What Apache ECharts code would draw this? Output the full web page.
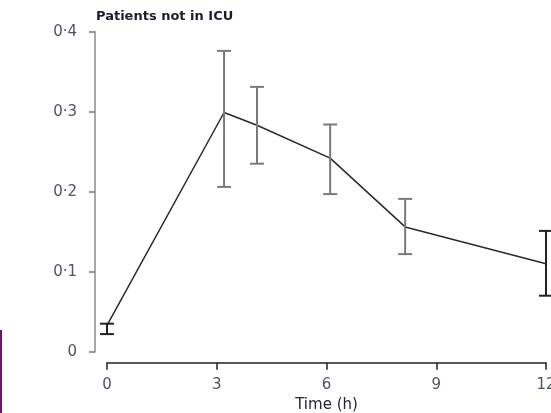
<!DOCTYPE html>
<html>
<head>
<meta charset="utf-8">
<script src="https://cdn.jsdelivr.net/npm/echarts@6/dist/echarts.min.js"></script>
<style>
  html, body { margin: 0; padding: 0; background: #fff; overflow: hidden; }
  #chart { width: 551px; height: 413px; }
</style>
</head>
<body>
<div id="chart"></div>
<script>
// ---- data ----
var titleText = 'Patients not in ICU';
var xAxisName = 'Time (h)';
var timesH  = [0, 3.2, 4.1, 6.1, 8.15, 12];
var means   = [0.033, 0.299, 0.283, 0.242, 0.156, 0.110];
var lowers  = [0.022, 0.206, 0.235, 0.197, 0.122, 0.070];
var uppers  = [0.035, 0.376, 0.331, 0.284, 0.191, 0.151];
var xTicks  = [0, 3, 6, 9, 12];
var yTicks  = [0, 0.1, 0.2, 0.3, 0.4];

function fmtY(v) {
  if (v === 0) return '0';
  return v.toFixed(1).replace('.', '\u00B7');
}

var lineData = timesH.map(function (t, i) { return [t, means[i]]; });
var errData = timesH.map(function (t, i) { return [t, lowers[i], uppers[i]]; });

var chart = echarts.init(document.getElementById('chart'));
var FONT = 'DejaVu Sans';
var lastIdx = timesH.length - 1;

chart.setOption({
  animation: false,
  backgroundColor: '#ffffff',
  title: {
    text: titleText,
    left: 96, top: 10, padding: 0,
    textStyle: { fontFamily: FONT, fontSize: 13, fontWeight: 'bold', color: '#1a1e2c' }
  },
  grid: { left: 107, right: 5, top: 31.7, bottom: 61.3, containLabel: false, outerBoundsMode: 'none' },
  xAxis: {
    type: 'value', min: 0, max: 12, interval: 3, offset: 11,
    name: xAxisName, nameLocation: 'middle', nameGap: 35,
    nameTextStyle: { fontFamily: FONT, fontSize: 15, color: '#262632' },
    axisLine: { show: true, onZero: false, lineStyle: { color: '#222', width: 1.5 } },
    axisTick: { show: true, length: 7, lineStyle: { color: '#222', width: 1.5 } },
    axisLabel: { margin: 15, fontFamily: FONT, fontSize: 15, color: '#4e5366',
      hideOverlap: false,
      formatter: function (v) { return xTicks.indexOf(v) >= 0 ? String(v) : ''; } },
    splitLine: { show: false }
  },
  yAxis: {
    type: 'value', min: 0, max: 0.4, interval: 0.1, offset: 12,
    axisLine: { show: true, onZero: false, lineStyle: { color: '#a8a8a8', width: 2 } },
    axisTick: { show: true, length: 6, lineStyle: { color: '#999', width: 2 } },
    axisLabel: { margin: 18, fontFamily: FONT, fontSize: 15, color: '#4e5366',
      formatter: function (v) {
        for (var k = 0; k < yTicks.length; k++) {
          if (Math.abs(yTicks[k] - v) < 1e-9) return fmtY(yTicks[k]);
        }
        return '';
      } },
    splitLine: { show: false }
  },
  graphic: [
    { type: 'rect', shape: { x: 0, y: 330, width: 2, height: 83 }, style: { fill: '#6e1170' } }
  ],
  series: [
    {
      type: 'line',
      data: lineData,
      symbol: 'none',
      lineStyle: { color: '#2a2a2a', width: 1.5 },
      z: 3
    },
    {
      type: 'custom',
      data: errData,
      z: 4,
      renderItem: function (params, api) {
        var x = api.value(0);
        var lo = api.coord([x, api.value(1)]);
        var hi = api.coord([x, api.value(2)]);
        var half = 7;
        var idx = params.dataIndex;
        var col = (idx === 0 || idx === lastIdx) ? '#222' : '#7a7a7a';
        var st = { stroke: col, lineWidth: 2 };
        return {
          type: 'group',
          children: [
            { type: 'line', shape: { x1: lo[0], y1: lo[1], x2: hi[0], y2: hi[1] }, style: st },
            { type: 'line', shape: { x1: lo[0] - half, y1: lo[1], x2: lo[0] + half, y2: lo[1] }, style: st },
            { type: 'line', shape: { x1: hi[0] - half, y1: hi[1], x2: hi[0] + half, y2: hi[1] }, style: st }
          ]
        };
      }
    }
  ]
});
</script>
</body>
</html>
